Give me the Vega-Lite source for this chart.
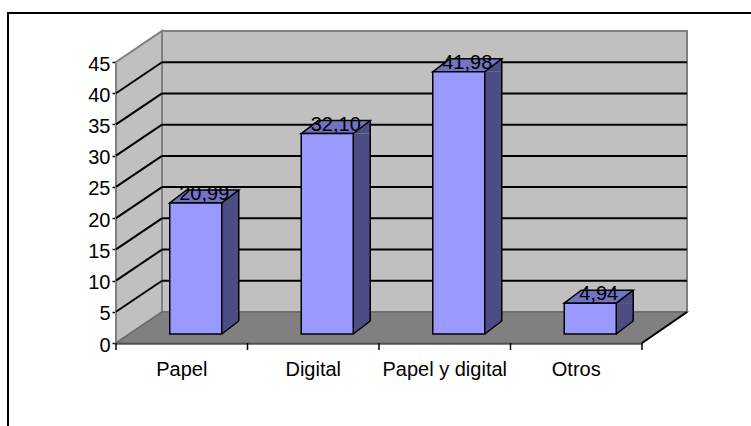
{
  "$schema": "https://vega.github.io/schema/vega-lite/v6.json",
  "autosize": {"type": "none"},
  "padding": {"left": 8, "top": 13, "right": -3, "bottom": -3},
  "width": 746,
  "height": 416,
  "background": "white",
  "config": {
    "view": {"stroke": "black", "strokeWidth": 2, "fill": "white"},
    "locale": {"number": {"decimal": ",", "thousands": ".", "grouping": [3], "currency": ["", " €"]}},
    "font": "Liberation Sans"
  },
  "datasets": {
    "bars": [
      {"cat": "Papel", "value": 20.99},
      {"cat": "Digital", "value": 32.10},
      {"cat": "Papel y digital", "value": 41.98},
      {"cat": "Otros", "value": 4.94}
    ],
    "grid": [{"v": 5}, {"v": 10}, {"v": 15}, {"v": 20}, {"v": 25}, {"v": 30}, {"v": 35}, {"v": 40}],
    "one": [{"k": 1}]
  },
  "data": {"name": "bars"},
  "encoding": {},
  "layer": [
    {
      "mark": {"type": "bar", "opacity": 0, "width": 52, "xOffset": 14},
      "encoding": {
        "x": {"field": "cat", "type": "nominal", "sort": null, "title": null,
          "scale": {"type": "band", "domain": ["Papel", "Digital", "Papel y digital", "Otros"], "range": [108, 634], "paddingInner": 0, "paddingOuter": 0},
          "axis": {"title": null, "bandPosition": 0.5, "labelAngle": 0, "labelAlign": "center", "labelBaseline": "top", "offset": -86, "ticks": false, "domainColor": "black", "domainWidth": 2, "labelColor": "black", "labelFont": "Liberation Sans", "labelFontSize": 20, "labelPadding": 16, "grid": false}},
        "y": {"field": "value", "type": "quantitative", "title": null,
          "scale": {"type": "linear", "domain": [0, 45], "range": [330, 49], "nice": false, "zero": true},
          "axis": {"title": null, "values": [0, 5, 10, 15, 20, 25, 30, 35, 40, 45], "offset": -108, "grid": false, "tickSize": 4, "tickColor": "black", "tickWidth": 1.5, "domainColor": "black", "domainWidth": 2, "labelColor": "black", "labelFont": "Liberation Sans", "labelFontSize": 20, "labelPadding": 2, "labelOffset": 2}},
        "y2": {"datum": 0}
      }
    },
    {
      "data": {"name": "one"},
      "mark": {"type": "point", "shape": "M0,0 L0,-281 L46,-312 L46,-31 Z", "size": 4, "filled": true, "fill": "#C0C0C0", "stroke": "#808080", "strokeWidth": 2, "opacity": 1},
      "encoding": {
        "x": {"datum": "Papel", "bandPosition": 0, "title": null},
        "y": {"datum": 0, "title": null}
      }
    },
    {
      "data": {"name": "one"},
      "mark": {"type": "point", "shape": "M46,-31 L46,-312 L571,-312 L571,-31 Z", "size": 4, "filled": true, "fill": "#C0C0C0", "stroke": "#808080", "strokeWidth": 2, "opacity": 1},
      "encoding": {
        "x": {"datum": "Papel", "bandPosition": 0, "title": null},
        "y": {"datum": 0, "title": null}
      }
    },
    {
      "data": {"name": "one"},
      "mark": {"type": "point", "shape": "M0,0 L46,-31 L571,-31 L526,0 Z", "size": 4, "filled": true, "fill": "#808080", "stroke": "#6a6a6a", "strokeWidth": 1.5, "opacity": 1},
      "encoding": {
        "x": {"datum": "Papel", "bandPosition": 0, "title": null},
        "y": {"datum": 0, "title": null}
      }
    },
    {
      "data": {"name": "one"},
      "mark": {"type": "point", "shape": "M526,0 L571,-31", "size": 4, "filled": false, "fill": null, "stroke": "black", "strokeWidth": 2, "opacity": 1},
      "encoding": {
        "x": {"datum": "Papel", "bandPosition": 0, "title": null},
        "y": {"datum": 0, "title": null}
      }
    },
    {
      "data": {"name": "grid"},
      "mark": {"type": "rule", "color": "black", "strokeWidth": 2, "xOffset": 46, "x2Offset": 45, "yOffset": -31},
      "encoding": {
        "x": {"datum": "Papel", "bandPosition": 0, "title": null},
        "x2": {"datum": "Otros", "bandPosition": 1},
        "y": {"field": "v", "type": "quantitative", "title": null}
      }
    },
    {
      "data": {"name": "grid"},
      "mark": {"type": "rule", "color": "black", "strokeWidth": 2, "x2Offset": 46, "y2Offset": -31},
      "encoding": {
        "x": {"datum": "Papel", "bandPosition": 0, "title": null},
        "x2": {"datum": "Papel", "bandPosition": 0},
        "y": {"field": "v", "type": "quantitative", "title": null},
        "y2": {"field": "v"}
      }
    },
    {
      "mark": {"type": "bar", "width": 17, "xOffset": 48.5, "yOffset": -9, "y2Offset": -22, "fill": "#4D4D85", "strokeWidth": 0},
      "encoding": {
        "x": {"field": "cat", "type": "nominal", "sort": null, "title": null},
        "y": {"field": "value", "type": "quantitative", "title": null},
        "y2": {"datum": 0}
      }
    },
    {
      "mark": {"type": "point", "shape": "M26,0 L43,-13 L43,0 Z", "size": 4, "filled": true, "fill": "#4D4D85", "strokeWidth": 0, "opacity": 1, "xOffset": 14, "yOffset": -9},
      "encoding": {
        "x": {"field": "cat", "type": "nominal", "sort": null, "title": null},
        "y": {"field": "value", "type": "quantitative", "title": null}
      }
    },
    {
      "mark": {"type": "point", "shape": "M26,0 L26,-13 L43,-13 Z", "size": 4, "filled": true, "fill": "#4D4D85", "strokeWidth": 0, "opacity": 1, "xOffset": 14, "yOffset": -9},
      "encoding": {
        "x": {"field": "cat", "type": "nominal", "sort": null, "title": null},
        "y": {"datum": 0, "title": null}
      }
    },
    {
      "mark": {"type": "point", "shape": "M26,0 L43,-13", "size": 4, "filled": false, "stroke": "black", "strokeWidth": 1.5, "opacity": 1, "xOffset": 14, "yOffset": -9},
      "encoding": {
        "x": {"field": "cat", "type": "nominal", "sort": null, "title": null},
        "y": {"datum": 0, "title": null}
      }
    },
    {
      "mark": {"type": "rule", "color": "black", "strokeWidth": 1.5, "xOffset": 57, "yOffset": -22, "y2Offset": -22},
      "encoding": {
        "x": {"field": "cat", "type": "nominal", "sort": null, "title": null},
        "y": {"field": "value", "type": "quantitative", "title": null},
        "y2": {"datum": 0}
      }
    },
    {
      "mark": {"type": "point", "shape": "M-26,0 L-9,-13 L43,-13 L26,0 Z", "size": 4, "filled": true, "fill": "#7373C4", "stroke": "black", "strokeWidth": 1.5, "opacity": 1, "xOffset": 14, "yOffset": -9},
      "encoding": {
        "x": {"field": "cat", "type": "nominal", "sort": null, "title": null},
        "y": {"field": "value", "type": "quantitative", "title": null}
      }
    },
    {
      "mark": {"type": "bar", "width": 52, "xOffset": 14, "yOffset": -9, "y2Offset": -9, "fill": "#9999FF", "stroke": "black", "strokeWidth": 1.5},
      "encoding": {
        "x": {"field": "cat", "type": "nominal", "sort": null, "title": null},
        "y": {"field": "value", "type": "quantitative", "title": null},
        "y2": {"datum": 0}
      }
    },
    {
      "mark": {"type": "rule", "color": "black", "strokeWidth": 1.5, "y2Offset": 7},
      "encoding": {
        "x": {"field": "cat", "type": "nominal", "sort": null, "bandPosition": 0, "title": null},
        "y": {"datum": 0, "title": null},
        "y2": {"datum": 0}
      }
    },
    {
      "data": {"name": "one"},
      "mark": {"type": "rule", "color": "black", "strokeWidth": 1.5, "y2Offset": 7},
      "encoding": {
        "x": {"datum": "Otros", "bandPosition": 1, "title": null},
        "y": {"datum": 0, "title": null},
        "y2": {"datum": 0}
      }
    },
    {
      "mark": {"type": "text", "xOffset": 22.5, "yOffset": -12, "baseline": "alphabetic", "align": "center", "font": "Liberation Sans", "fontSize": 20, "color": "black"},
      "encoding": {
        "x": {"field": "cat", "type": "nominal", "sort": null, "title": null},
        "y": {"field": "value", "type": "quantitative", "title": null},
        "text": {"field": "value", "type": "quantitative", "format": ".2f"}
      }
    }
  ]
}
